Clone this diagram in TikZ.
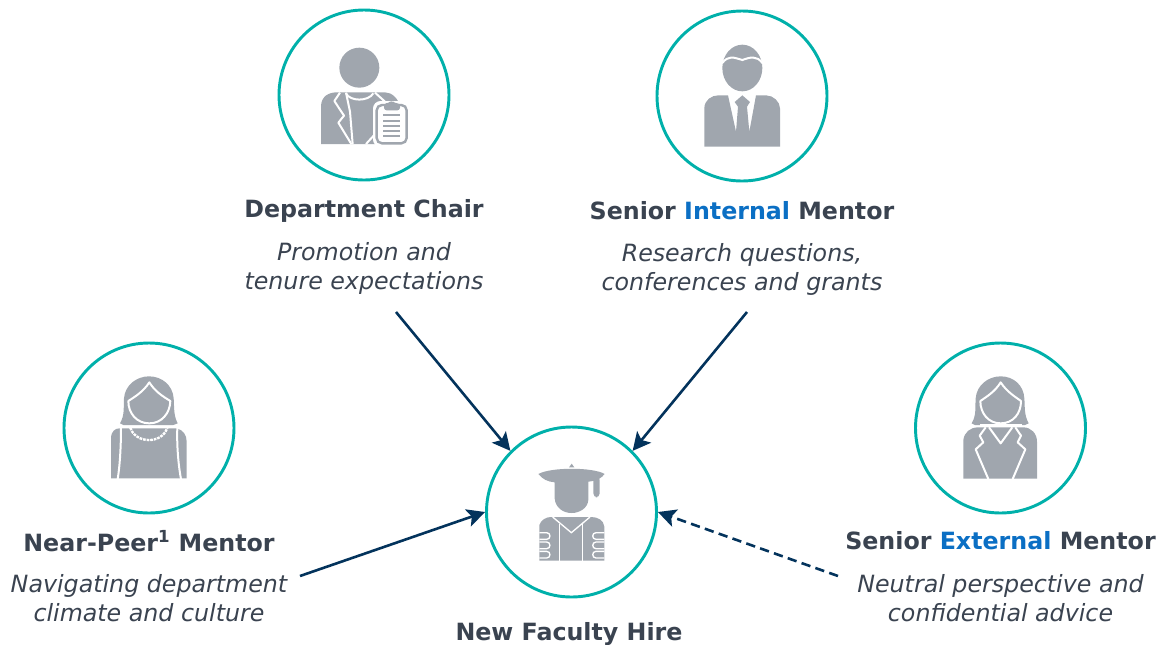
\documentclass[tikz,border=0pt]{standalone}
\usepackage{fontspec}
\setmainfont{DejaVu Sans}
\usetikzlibrary{arrows.meta}
\definecolor{ringc}{HTML}{00B0AA}
\definecolor{iconc}{HTML}{A0A6AE}
\definecolor{navy}{HTML}{03335C}
\definecolor{ink}{HTML}{3A4350}
\definecolor{hl}{HTML}{0B6FC4}
\tikzset{
  ring/.style={circle,draw=ringc,line width=2.2pt,minimum size=127.5pt,inner sep=0pt},
  ttl/.style={font=\fontsize{17.8pt}{20pt}\selectfont\bfseries,text=ink,inner sep=0pt,anchor=center},
  desc/.style={font=\fontsize{17.8pt}{21.8pt}\selectfont\itshape,text=ink,inner sep=0pt,align=center,anchor=center},
  link/.style={draw=navy,line width=1.95pt,-{Stealth[length=13.5pt,width=13.5pt,inset=3pt]}},
  body/.style={fill=iconc,draw=none},
  cut/.style={draw=white,line width=1.5pt,line join=round},
  cutt/.style={draw=white,line width=1pt},
  zoomed/.style={shift={#1},x=.25pt,y=-.25pt}
}
\begin{document}
\begin{tikzpicture}[x=.75pt,y=-.75pt]
\useasboundingbox (0,0) rectangle (1157,644);
% circles
\node[ring] (chair) at (364,95) {};
\node[ring] (internal) at (742,96) {};
\node[ring] (peer) at (149,428) {};
\node[ring] (external) at (1000.5,428) {};
\node[ring] (hire) at (571.5,512) {};
% icons
\begin{scope}[zoomed={(270,0)}]
  \fill[body] (268,203) circle (60);
  \fill[body] (153,432) -- (153,320) .. controls (153,290) and (175,277) .. (200,277) -- (345,277) .. controls (365,277) and (385,295) .. (390,320) -- (390,432) -- cycle;
  \draw[cut] (210,278) -- (193,303) -- (222,347) -- (205,368) -- (244,432);
  \draw[cut] (228,278) -- (240,335) -- (248,432);
  \draw[cut] (228,280) .. controls (240,305) and (295,305) .. (310,280);
  \draw[cut] (315,278) -- (345,305);
  \draw[cut] (288,432) -- (322,395);
  \draw[fill=white,draw=white,line width=1.5pt,rounded corners=5pt] (312,306) rectangle (416,438);
  \draw[fill=white,draw=iconc,line width=1.8pt,rounded corners=4pt] (320,315) rectangle (410,430);
  \fill[body,rounded corners=2pt] (342,310) -- (355,310) -- (365,301) -- (375,310) -- (390,310) -- (390,331) -- (342,331) -- cycle;
  \foreach \yy in {345,362,378,393,407}{ \fill[body] (340,\yy-2) rectangle (390,\yy+3); }
\end{scope}
\begin{scope}[zoomed={(650,0)}]
  \fill[body] (277,204) ellipse (60 and 70);
  \draw[draw=white,line width=1.5pt] (216,190) .. controls (235,165) and (250,172) .. (277,180) .. controls (300,172) and (320,165) .. (338,190);
  \fill[body] (163,440) -- (163,325) .. controls (163,300) and (185,286) .. (205,286) -- (234,286) -- (258,395) -- (264,320) -- (254,306) -- (277,286) -- (300,306) -- (291,320) -- (298,395) -- (318,286) -- (348,286) .. controls (370,286) and (390,305) .. (390,325) -- (390,440) -- cycle;
\end{scope}
\begin{scope}[zoomed={(55,335)}]
  \fill[body] (195,265) .. controls (210,240) and (205,215) .. (207,190) .. controls (210,150) and (245,124) .. (282,124) .. controls (320,124) and (353,150) .. (356,190) .. controls (358,215) and (355,240) .. (368,265) -- (355,270) -- (205,270) -- cycle;
  \draw[cut,fill=iconc] (283,142) .. controls (265,170) and (240,185) .. (220,198) .. controls (220,235) and (245,265) .. (283,265) .. controls (320,265) and (345,235) .. (346,198) .. controls (325,185) and (300,170) .. (283,142) -- cycle;
  \fill[body] (168,430) -- (168,305) .. controls (170,290) and (180,280) .. (193,280) -- (365,280) .. controls (385,285) and (395,300) .. (395,320) -- (395,430) -- cycle;
  \draw[cut] (198,278) .. controls (198,330) and (195,390) .. (188,432);
  \draw[cut] (367,278) .. controls (365,330) and (370,390) .. (378,432);
  \draw[white,line width=1.8pt,dash pattern=on 2pt off .7pt] (226,278) .. controls (240,325) and (320,330) .. (337,278);
\end{scope}
\begin{scope}[zoomed={(905,335)}]
  \fill[body] (200,265) .. controls (215,240) and (210,215) .. (212,190) .. controls (215,150) and (250,124) .. (287,124) .. controls (325,124) and (356,150) .. (358,190) .. controls (360,215) and (357,240) .. (371,265) -- (360,270) -- (210,270) -- cycle;
  \draw[cut,fill=iconc] (287,142) .. controls (270,170) and (245,185) .. (226,198) .. controls (226,235) and (250,265) .. (287,265) .. controls (325,265) and (348,235) .. (348,198) .. controls (330,185) and (305,170) .. (287,142) -- cycle;
  \fill[body] (175,431) -- (175,315) .. controls (178,292) and (195,277) .. (220,277) -- (355,277) .. controls (378,277) and (396,295) .. (396,320) -- (396,431) -- cycle;
  \draw[cut] (242,277) -- (224,302) -- (235,322) -- (212,343) -- (250,432);
  \draw[cut] (331,277) -- (348,302) -- (338,322) -- (361,343) -- (323,432);
  \draw[cut] (252,277) -- (287,325) -- (322,277);
  \draw[draw=white,line width=1.8pt] (225,272) -- (350,272);
\end{scope}
\begin{scope}[zoomed={(476,420)}]
  \fill[body] (279,142) -- (287,131) -- (295,142) -- cycle;
  \fill[body] (187,162) .. controls (225,141) and (350,141) .. (386,162) .. controls (375,175) and (365,182) .. (337,185) -- (337,240) .. controls (335,265) and (310,279) .. (287,279) .. controls (260,279) and (238,262) .. (236,235) -- (236,187) .. controls (215,185) and (200,178) .. (187,162) -- cycle;
  \fill[body,rounded corners=3pt] (352,168) rectangle (371,232);
  \fill[body] (190,422) -- (190,315) .. controls (195,300) and (210,291) .. (225,291) -- (345,291) .. controls (365,291) and (383,300) .. (385,320) -- (385,422) -- cycle;
  \draw[cutt] (230,291) -- (286,338) -- (342,291);
  \draw[cutt] (251,312) -- (251,422);
  \draw[cutt] (320,312) -- (320,422);
  \foreach \yy in {338,366,394}{
    \draw[cutt] (190,\yy) -- (212,\yy) .. controls (225,\yy) and (225,\yy+20) .. (212,\yy+20) -- (190,\yy+20);
    \draw[cutt] (385,\yy) -- (360,\yy) .. controls (347,\yy) and (347,\yy+20) .. (360,\yy+20) -- (385,\yy+20);
  }
\end{scope}
% labels
\node[ttl] (t1) at (364,211) {Department Chair};
\node[desc] (d1) at (364,268) {Promotion and\\tenure expectations};
\node[ttl] (t2) at (742,211) {Senior \textcolor{hl}{Internal} Mentor};
\node[desc] (d2) at (742,269) {Research questions,\\conferences and grants};
\node[ttl] (t3) at (149,541) {Near-Peer\textsuperscript{1} Mentor};
\node[desc] (d3) at (149,598) {Navigating department\\climate and culture};
\node[ttl] (t4) at (1000.5,541) {Senior \textcolor{hl}{External} Mentor};
\node[desc] (d4) at (1000.5,598) {Neutral perspective and\\confidential advice};
\node[ttl] (t5) at (569,634) {New Faculty Hire};
% connectors
\coordinate (s1) at (396,312);
\coordinate (s2) at (747,312);
\coordinate (s3) at (300,576);
\coordinate (s4) at (838,576);
\draw[link] (s1) -- (hire.135);
\draw[link] (s2) -- (hire.45);
\draw[link] (s3) -- (hire.180);
\draw[link,dash pattern=on 7pt off 4pt] (s4) -- (hire.0);
\end{tikzpicture}
\end{document}
